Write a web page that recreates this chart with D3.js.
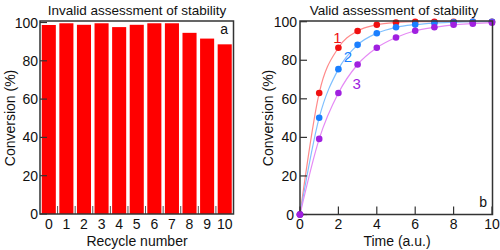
<!DOCTYPE html>
<html>
<head>
<meta charset="utf-8">
<script src="https://cdn.jsdelivr.net/npm/d3@7"></script>
<style>
  body { margin: 0; background: #fff; }
  svg text { font-family: "Liberation Sans", Arial, sans-serif; }
</style>
</head>
<body>
<div id="chart"></div>
<script>
// Panel a: conversion per recycle
const recycles = [0, 1, 2, 3, 4, 5, 6, 7, 8, 9, 10];
const conversionA = [98.7, 99.6, 98.8, 99.6, 97.6, 98.8, 99.6, 99.6, 94.6, 91.6, 88.6];

// Panel b: conversion vs time, three runs
const times = [0, 1, 2, 3, 4, 5, 6, 7, 8, 9, 10];
const run1 = [0, 63, 86.5, 95.2, 98.4, 99.6, 100, 100, 100, 100, 100];
const run2 = [0, 50.2, 75.4, 88, 94, 97.1, 98.5, 99.3, 99.7, 100, 100];
const run3 = [0, 39.2, 63, 77.8, 86.5, 91.8, 95.3, 97.1, 98.4, 99, 99.5];
const runLabels = ['1', '2', '3'];
const yTicks = [0, 20, 40, 60, 80, 100];
const xTicksB = [0, 2, 4, 6, 8, 10];

const svg = d3.select('#chart').append('svg')
  .attr('width', 500)
  .attr('height', 250);

const frameColor = '#333';
const tickFont = '14px';

// ---------- panel a ----------
const xa = d3.scaleBand()
  .domain(recycles)
  .range([40, 233.5])
  .paddingInner(0.2)
  .paddingOuter(0.1);

const ya = d3.scaleLinear().domain([0, 100]).range([214, 22.5]);

svg.selectAll('rect.bar')
  .data(recycles)
  .enter().append('rect')
  .attr('class', 'bar')
  .attr('x', d => xa(d))
  .attr('y', (d, i) => ya(conversionA[i]))
  .attr('width', xa.bandwidth())
  .attr('height', (d, i) => ya(0) - ya(conversionA[i]))
  .attr('fill', '#ff0000');

// tick marks between bars, pointing up from the bottom
recycles.slice(1).forEach((d, i) => {
  const xx = 40 + (i + 1) * xa.step();
  svg.append('line')
    .attr('x1', xx).attr('x2', xx)
    .attr('y1', ya(0)).attr('y2', ya(0) - 8)
    .attr('stroke', '#555')
    .attr('stroke-width', 1);
});

// y axis ticks (inward)
yTicks.forEach(t => {
  svg.append('line')
    .attr('x1', 40).attr('x2', 47)
    .attr('y1', ya(t)).attr('y2', ya(t))
    .attr('stroke', frameColor).attr('stroke-width', 1.2);
  svg.append('text')
    .attr('x', 38).attr('y', ya(t) + 5)
    .attr('text-anchor', 'end')
    .attr('font-size', tickFont)
    .attr('fill', '#111')
    .text(t);
});

recycles.forEach(d => {
  svg.append('text')
    .attr('x', xa(d) + xa.bandwidth() / 2)
    .attr('y', 229)
    .attr('text-anchor', 'middle')
    .attr('font-size', tickFont)
    .attr('fill', '#111')
    .text(d);
});

svg.append('rect')
  .attr('x', 40).attr('y', 21)
  .attr('width', 193.5).attr('height', 193)
  .attr('fill', 'none')
  .attr('stroke', frameColor)
  .attr('stroke-width', 1.5);

svg.append('text')
  .attr('x', 137).attr('y', 15)
  .attr('text-anchor', 'middle')
  .attr('font-size', '13.5px')
  .attr('fill', '#111')
  .text('Invalid assessment of stability');

svg.append('text')
  .attr('text-anchor', 'middle')
  .attr('transform', 'translate(15,118) rotate(-90)')
  .attr('font-size', tickFont)
  .attr('fill', '#111')
  .text('Conversion (%)');

svg.append('text')
  .attr('x', 137).attr('y', 246)
  .attr('text-anchor', 'middle')
  .attr('font-size', tickFont)
  .attr('fill', '#111')
  .text('Recycle number');

svg.append('text')
  .attr('x', 228).attr('y', 34)
  .attr('text-anchor', 'end')
  .attr('font-size', tickFont)
  .attr('fill', '#111')
  .text('a');

// ---------- panel b ----------
const xb = d3.scaleLinear().domain([0, 10]).range([300, 492]);
const yb = d3.scaleLinear().domain([0, 100]).range([214.5, 21.7]);

const runs = [
  { values: run1, line: '#ff8a8a', dot: '#f01010', label: runLabels[0], lx: 1.95, ly: 89 },
  { values: run2, line: '#80c0ff', dot: '#1a7fff', label: runLabels[1], lx: 2.5, ly: 79 },
  { values: run3, line: '#e58af5', dot: '#a020e0', label: runLabels[2], lx: 2.95, ly: 65 }
];

const line = d3.line()
  .x((d, i) => xb(times[i]))
  .y(d => yb(d))
  .curve(d3.curveMonotoneX);

runs.forEach(r => {
  svg.append('path')
    .attr('d', line(r.values))
    .attr('fill', 'none')
    .attr('stroke', r.line)
    .attr('stroke-width', 1.2);
});

runs.forEach(r => {
  svg.selectAll(null)
    .data(r.values)
    .enter().append('circle')
    .attr('cx', (d, i) => xb(times[i]))
    .attr('cy', d => yb(d))
    .attr('r', 3.3)
    .attr('fill', r.dot);
  svg.append('text')
    .attr('x', xb(r.lx)).attr('y', yb(r.ly))
    .attr('text-anchor', 'middle')
    .attr('font-size', '15px')
    .attr('fill', r.dot)
    .text(r.label);
});

yTicks.forEach(t => {
  svg.append('line')
    .attr('x1', 300).attr('x2', 307)
    .attr('y1', yb(t)).attr('y2', yb(t))
    .attr('stroke', frameColor).attr('stroke-width', 1.2);
  svg.append('text')
    .attr('x', t === 0 ? 294 : 297).attr('y', yb(t) + 5)
    .attr('text-anchor', 'end')
    .attr('font-size', tickFont)
    .attr('fill', '#111')
    .text(t);
});

xTicksB.forEach(t => {
  svg.append('line')
    .attr('x1', xb(t)).attr('x2', xb(t))
    .attr('y1', yb(0)).attr('y2', yb(0) - 8)
    .attr('stroke', frameColor).attr('stroke-width', 1.2);
  svg.append('text')
    .attr('x', xb(t)).attr('y', 229)
    .attr('text-anchor', 'middle')
    .attr('font-size', tickFont)
    .attr('fill', '#111')
    .text(t);
});

svg.append('rect')
  .attr('x', 300).attr('y', 21)
  .attr('width', 192.5).attr('height', 193.5)
  .attr('fill', 'none')
  .attr('stroke', frameColor)
  .attr('stroke-width', 1.5);

// redraw the origin dot above the frame
svg.append('circle')
  .attr('cx', xb(0)).attr('cy', yb(0))
  .attr('r', 3.3)
  .attr('fill', runs[2].dot);

svg.append('text')
  .attr('x', 394).attr('y', 15)
  .attr('text-anchor', 'middle')
  .attr('font-size', '13.5px')
  .attr('fill', '#111')
  .text('Valid assessment of stability');

svg.append('text')
  .attr('text-anchor', 'middle')
  .attr('transform', 'translate(273,118) rotate(-90)')
  .attr('font-size', tickFont)
  .attr('fill', '#111')
  .text('Conversion (%)');

svg.append('text')
  .attr('x', 397).attr('y', 246)
  .attr('text-anchor', 'middle')
  .attr('font-size', tickFont)
  .attr('fill', '#111')
  .text('Time (a.u.)');

svg.append('text')
  .attr('x', 487).attr('y', 207)
  .attr('text-anchor', 'end')
  .attr('font-size', tickFont)
  .attr('fill', '#111')
  .text('b');
</script>
</body>
</html>
